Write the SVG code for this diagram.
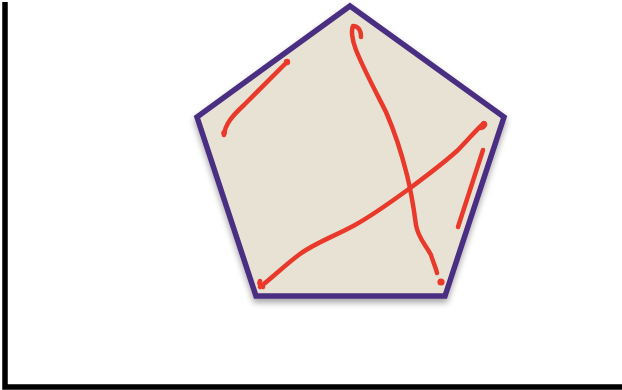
<svg xmlns="http://www.w3.org/2000/svg" width="622" height="390" viewBox="0 0 622 390">
<defs>
<filter id="sh" x="-20%" y="-20%" width="140%" height="140%">
<feGaussianBlur in="SourceAlpha" stdDeviation="3"/>
<feOffset dx="0" dy="4" result="b"/>
<feComponentTransfer><feFuncA type="linear" slope="0.35"/></feComponentTransfer>
<feMerge><feMergeNode/><feMergeNode in="SourceGraphic"/></feMerge>
</filter>
</defs>
<style>
.ink{fill:none;stroke:#e8392a;stroke-width:4.5;stroke-linecap:round;stroke-linejoin:round}
.dot{fill:#e8392a}
.axis{fill:none;stroke:#000;stroke-width:5.5}
</style>
<rect width="622" height="390" fill="#fff"/>
<g id="axes">
<path class="axis" d="M5,2 V387 H622"/>
</g>
<g id="pentagon">
<polygon points="350,6 504,117 445,296 256,296 197,117" fill="#e8e2d4" stroke="#4a2e82" stroke-width="5.5" stroke-linejoin="miter" filter="url(#sh)"/>
</g>
<g id="strokes">
<path class="ink" d="M224,135 C225,125 231,117 244,105 L287,62"/>
<circle class="dot" cx="287" cy="62" r="3.2"/>
<circle class="dot" cx="224" cy="133" r="2.8"/>
<path class="ink" d="M361,37 C361,30 358,26 353,26 C351,30 352,40 356,50 C364,70 376,92 386,112 C396,135 402,155 407,175 C412,195 414,210 416,225 C418,238 426,245 431,255 C433,262 436,268 437,273"/>
<circle class="dot" cx="441" cy="282" r="3.6"/>
<path class="ink" d="M263,287 C259,285 259,283 260,281 M260,287 C272,278 285,265 300,254 C315,243 335,236 355,225 C375,214 395,199 413,186 C430,173 445,162 458,150 C468,140 476,130 484,123 C486,124 485,127 481,128"/>
<circle class="dot" cx="484" cy="124" r="3"/>
<path class="ink" d="M483,150 L458,227"/>
</g>
</svg>
